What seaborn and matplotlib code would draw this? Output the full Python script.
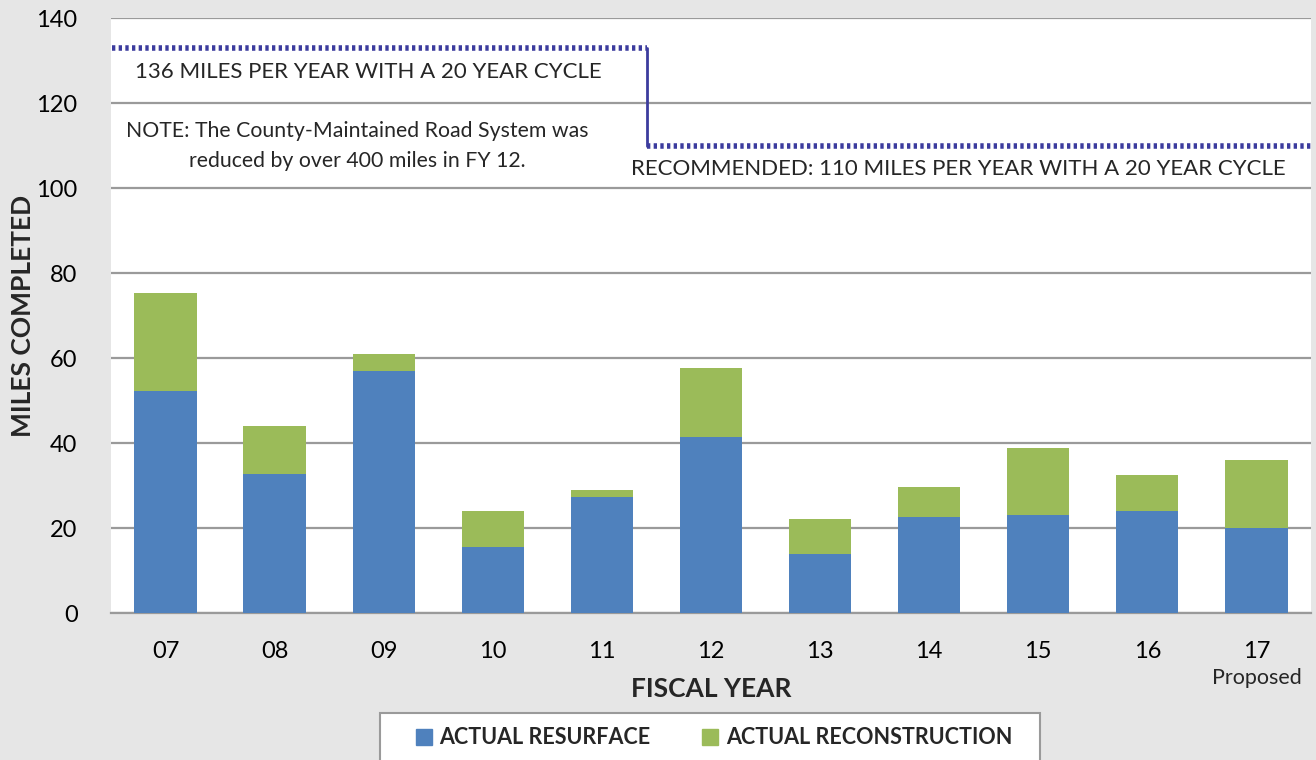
import numpy as np
import pandas as pd
import matplotlib.pyplot as plt
import seaborn as sns
from matplotlib.patches import Patch, Rectangle

# data
years = ['07', '08', '09', '10', '11', '12', '13', '14', '15', '16', '17']
resurface = [52.3, 32.8, 57.0, 15.6, 27.3, 41.5, 13.9, 22.6, 23.1, 24.0, 20.0]
reconstruction = [22.9, 11.3, 4.0, 8.4, 1.7, 16.2, 8.3, 7.1, 15.8, 8.5, 16.1]
target_old = 133   # drawn level of the 136-mile line
target_new = 110
step_at = 4.41     # where the target line drops (category units)

df = pd.DataFrame({'year': years, 'resurface': resurface, 'reconstruction': reconstruction})
df['total'] = df['resurface'] + df['reconstruction']

blue = '#4F81BD'
green = '#9BBB59'
line_col = '#3C3C9E'
bg = '#E6E6E6'

sns.set_theme(style='white')
plt.rcParams['font.family'] = ['Lato', 'DejaVu Sans']

fig = plt.figure(figsize=(13.16, 7.6), dpi=100, facecolor=bg)
ax = fig.add_axes([0.0843, 0.1934, 0.9119, 0.7829])
ax.set_facecolor('white')

# stacked bars: total in green, resurface drawn over it in blue
sns.barplot(data=df, x='year', y='total', color=green, saturation=1, width=0.57,
            errorbar=None, ax=ax, zorder=3, linewidth=0)
sns.barplot(data=df, x='year', y='resurface', color=blue, saturation=1, width=0.57,
            errorbar=None, ax=ax, zorder=4, linewidth=0)

ax.set_xlim(-0.5, len(years) - 0.5)
ax.set_ylim(0, 140)
ax.set_yticks(range(0, 141, 20))
ax.grid(axis='y', color='#9A9A9A', lw=1.6, zorder=0)
ax.grid(axis='x', visible=False)
for s in ['top', 'right', 'left']:
    ax.spines[s].set_visible(False)
ax.spines['bottom'].set_color('#9A9A9A')
ax.spines['bottom'].set_linewidth(1.6)
ax.tick_params(axis='both', length=0, labelsize=17, colors='black')
ax.tick_params(axis='y', pad=24)
ax.tick_params(axis='x', pad=20)

# target lines
ax.plot([-0.49, step_at], [target_old, target_old], color=line_col, lw=4,
        ls=(0, (0.6, 0.6)), dash_capstyle='butt', zorder=5)
ax.plot([step_at, len(years) - 0.5], [target_new, target_new], color=line_col, lw=4,
        ls=(0, (0.6, 0.6)), dash_capstyle='butt', zorder=5)
ax.plot([step_at, step_at], [target_old, target_new], color=line_col, lw=2, zorder=5)

ax.text(-0.28, 127.3, '136 MILES PER YEAR WITH A 20 YEAR CYCLE', fontsize=16, va='center', ha='left')
ax.text(1.76, 109.9, 'NOTE: The County-Maintained Road System was\nreduced by over 400 miles in FY 12.',
        fontsize=15.3, va='center', ha='center', linespacing=1.6)
ax.text(4.27, 104.5, 'RECOMMENDED: 110 MILES PER YEAR WITH A 20 YEAR CYCLE', fontsize=16,
        va='center', ha='left')

ax.set_xlabel('FISCAL YEAR', fontsize=19, fontweight='bold', labelpad=11)
ax.set_ylabel('MILES COMPLETED', fontsize=19, fontweight='bold')
ax.yaxis.set_label_coords(-0.063, 0.5)
ax.text(10, -15.3, 'Proposed', fontsize=15.5, ha='center', va='center')

# legend box (runs off the bottom edge like the original)
fig.patches.append(Rectangle((0.2888, -0.02), 0.5015, 0.0818, transform=fig.transFigure,
                             facecolor='white', edgecolor='#9A9A9A', lw=1.5, zorder=1))
handles = [Patch(color=blue, label='ACTUAL RESURFACE'),
           Patch(color=green, label='ACTUAL RECONSTRUCTION')]
leg = fig.legend(handles=handles, loc='center', bbox_to_anchor=(0.5425, 0.029), ncol=2,
                 frameon=False, prop={'size': 15.5, 'weight': 'bold'},
                 handlelength=0.75, handleheight=0.75, handletextpad=0.35,
                 columnspacing=2.4, borderpad=0, borderaxespad=0)
leg.set_zorder(2)

fig.savefig('out.png', dpi=100, facecolor=bg)
